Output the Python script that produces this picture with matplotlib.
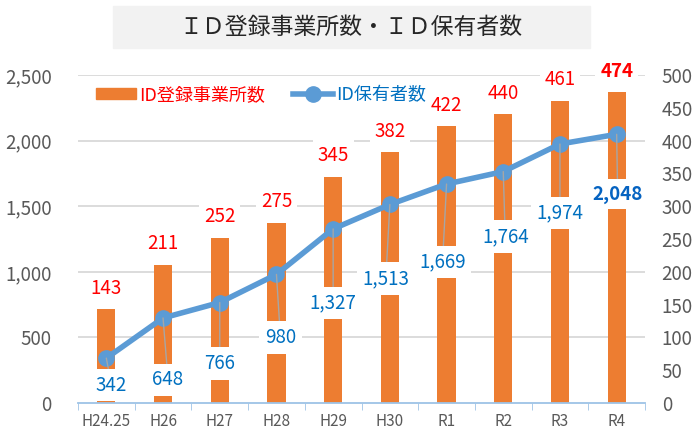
import numpy as np
import matplotlib
matplotlib.use("Agg")
import matplotlib.pyplot as plt
from matplotlib.patches import Rectangle, Patch
from matplotlib.lines import Line2D

plt.rcParams['font.family'] = ['Noto Sans CJK JP', 'DejaVu Sans']

# data
years = ["H24.25", "H26", "H27", "H28", "H29", "H30", "R1", "R2", "R3", "R4"]
offices = [143, 211, 252, 275, 345, 382, 422, 440, 461, 474]          # ID登録事業所数 (right axis)
holders = [342, 648, 766, 980, 1327, 1513, 1669, 1764, 1974, 2048]    # ID保有者数 (left axis)

# label placement for line labels (pixel offset from point: dx, dy down)
holder_lbl_off = [(5, 27), (5, 62), (0, 61), (4, 63), (0, 74),
                  (-4, 74), (-4, 78), (2, 65), (0, 69), (1, 60)]

bar_col = "#ED7D31"
line_col = "#5B9BD5"
lbl_blue = "#0070C0"
tick_col = "#595959"
px = 0.72  # pixel -> points at dpi 100

fig = plt.figure(figsize=(6.96, 4.34), dpi=100)
fig.patches.append(Rectangle((113/696, 1-48/434), (590-113)/696, 42/434,
                             transform=fig.transFigure, color="#F2F2F2", zorder=0))
fig.text(351/696, 1-27/434, "ＩＤ登録事業所数・ＩＤ保有者数", ha="center", va="center",
         fontsize=16.5, color="#262626")

ax = fig.add_axes([78/696, 1-403/434, (645-78)/696, 328/434])
ax2 = ax.twinx()
x = np.arange(len(years))

# bars on host axes, ticks on the right
ax.set_ylim(0, 500)
ax.set_xlim(-0.5, len(years)-0.5)
for g in range(100, 501, 100):
    ax.axhline(g, color="#D9D9D9", lw=1.3, zorder=0)
ax.bar(x, offices, width=0.32, color=bar_col, zorder=2)
for i, v in enumerate(offices):
    ax.annotate(f"{v}", (x[i], v), xytext=(0, 21*px), textcoords="offset points",
                ha="center", va="center", fontsize=13.5, color="#FF0000",
                fontweight="bold" if i == len(offices)-1 else "normal",
                bbox=dict(boxstyle="square,pad=0.25", fc="white", ec="none"), zorder=3)
ax.yaxis.tick_right()
ax.set_yticks(range(0, 501, 50))
ax.tick_params(axis="y", length=0, labelsize=13.5, labelcolor=tick_col, pad=12,
               left=False, labelleft=False, right=True, labelright=True)

ax.set_xticks(x)
ax.set_xticklabels(years)
ax.set_xticks(np.arange(-0.5, len(years), 1), minor=True)
ax.tick_params(axis="x", which="major", length=0, labelsize=11, labelcolor=tick_col, pad=7)
ax.tick_params(axis="x", which="minor", length=5, color="#9DC3E6", direction="out")
for s in ["top", "left", "right"]:
    ax.spines[s].set_visible(False)
ax.spines["bottom"].set_color("#9DC3E6")
ax.spines["bottom"].set_linewidth(1.3)

# line on twin axes, ticks on the left
ax2.set_ylim(0, 2500)
ax2.yaxis.tick_left()
ax2.set_yticks(range(0, 2501, 500))
ax2.set_yticklabels([f"{t:,}" for t in range(0, 2501, 500)])
ax2.tick_params(axis="y", length=0, labelsize=13.5, labelcolor=tick_col, pad=19,
                right=False, labelright=False, left=True, labelleft=True)
for s in ax2.spines.values():
    s.set_visible(False)
ax2.plot(x, holders, color=line_col, lw=4, marker="o", ms=11, zorder=2)
for i, v in enumerate(holders):
    dx, dy = holder_lbl_off[i]
    last = i == len(holders)-1
    ax2.annotate(f"{v:,}", (x[i], v), xytext=(dx*px, -dy*px), textcoords="offset points",
                 ha="center", va="center", fontsize=13.5,
                 color="#0563C1" if last else lbl_blue,
                 fontweight="bold" if last else "normal",
                 bbox=dict(boxstyle="square,pad=0.3", fc="white", ec="none"),
                 arrowprops=dict(arrowstyle="-", color="#A6A6A6", lw=1,
                                 shrinkA=0, shrinkB=0), zorder=4)

handles = [Patch(color=bar_col), Line2D([0], [0], color=line_col, lw=4, marker="o", ms=11)]
leg = ax2.legend(handles, ["ID登録事業所数", "ID保有者数"], loc="center left",
                 bbox_to_anchor=(80/696, 1-95/434), bbox_transform=fig.transFigure,
                 ncol=2, frameon=False, fontsize=13, handlelength=2.2, handleheight=0.55,
                 handletextpad=0.15, columnspacing=1.6)
for t, c in zip(leg.get_texts(), ["#FF0000", lbl_blue]):
    t.set_color(c)

fig.savefig("out.png", dpi=100)
